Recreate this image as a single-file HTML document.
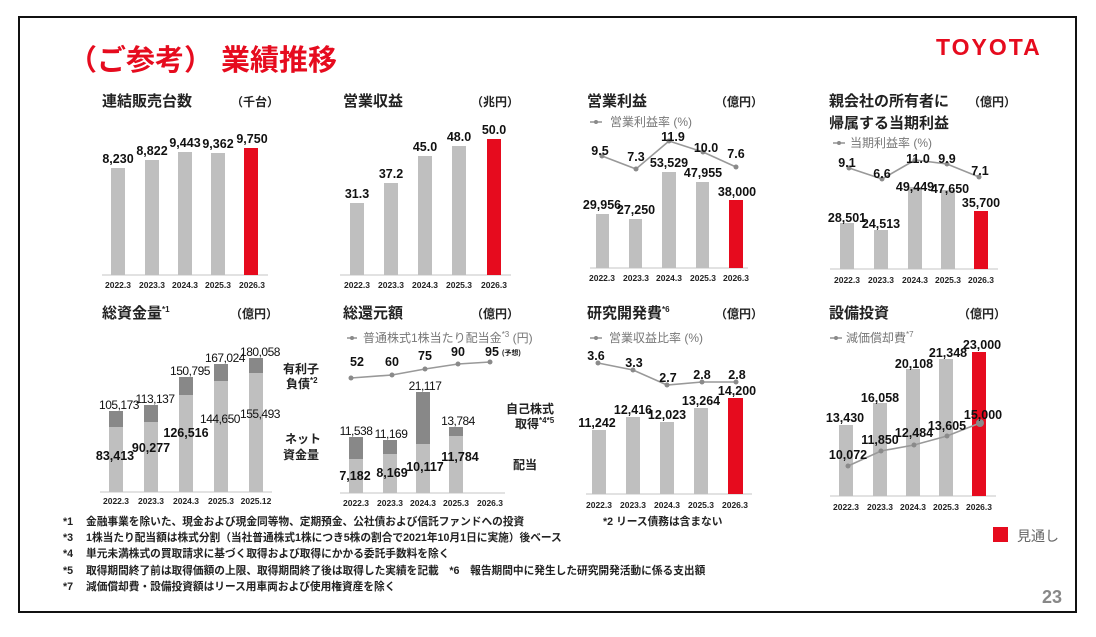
<!DOCTYPE html>
<html><head><meta charset="utf-8"><style>
html,body{margin:0;padding:0;background:#fff;}
svg{display:block;}
text{font-family:"Liberation Sans","Noto Sans CJK JP",sans-serif;}
.t{font-size:15px;font-weight:bold;fill:#222;}
.u{font-size:12px;font-weight:bold;fill:#222;}
.v{font-size:12.5px;font-weight:bold;fill:#111;text-anchor:middle;}
.vl{font-size:12px;fill:#111;text-anchor:middle;letter-spacing:-0.5px;}
.x{font-size:8.5px;font-weight:bold;fill:#222;text-anchor:middle;}
.lg{font-size:12px;fill:#777;}
.fn{font-size:10.7px;font-weight:bold;fill:#222;}
.g{fill:#bfbfbf;} .d{fill:#888;} .r{fill:#e60b1e;}
.ax{stroke:#d9d9d9;stroke-width:1.5;}
.ln{stroke:#999;stroke-width:1.6;fill:none;}
.pt{fill:#8a8a8a;}
</style></head><body>
<svg width="1096" height="637" viewBox="0 0 1096 637">
<rect x="19" y="17" width="1057" height="595" fill="#fff" stroke="#111" stroke-width="2"/>
<text x="68" y="70" font-size="29" font-weight="bold" fill="#e60b1e">（ご参考） 業績推移</text>
<text x="936" y="55" font-size="23" font-weight="bold" fill="#e60b1e" letter-spacing="2">TOYOTA</text>

<!-- Panel 1 -->
<text class="t" x="102" y="106">連結販売台数</text><text class="u" x="231" y="106">（千台）</text>
<line class="ax" x1="102" y1="275" x2="268" y2="275"/>
<rect class="g" x="111" y="168" width="14" height="107"/>
<rect class="g" x="145" y="160" width="14" height="115"/>
<rect class="g" x="178" y="152" width="14" height="123"/>
<rect class="g" x="211" y="153" width="14" height="122"/>
<rect class="r" x="244" y="148" width="14" height="127"/>
<text class="v" x="118" y="163">8,230</text><text class="v" x="152" y="155">8,822</text><text class="v" x="185" y="147">9,443</text><text class="v" x="218" y="148">9,362</text><text class="v" x="252" y="143">9,750</text>
<text class="x" x="118" y="288">2022.3</text><text class="x" x="152" y="288">2023.3</text><text class="x" x="185" y="288">2024.3</text><text class="x" x="218" y="288">2025.3</text><text class="x" x="252" y="288">2026.3</text>

<!-- Panel 2 -->
<text class="t" x="343" y="106">営業収益</text><text class="u" x="471" y="106">（兆円）</text>
<line class="ax" x1="340" y1="275" x2="511" y2="275"/>
<rect class="g" x="350" y="203" width="14" height="72"/>
<rect class="g" x="384" y="183" width="14" height="92"/>
<rect class="g" x="418" y="156" width="14" height="119"/>
<rect class="g" x="452" y="146" width="14" height="129"/>
<rect class="r" x="487" y="139" width="14" height="136"/>
<text class="v" x="357" y="198">31.3</text><text class="v" x="391" y="178">37.2</text><text class="v" x="425" y="151">45.0</text><text class="v" x="459" y="141">48.0</text><text class="v" x="494" y="134">50.0</text>
<text class="x" x="357" y="288">2022.3</text><text class="x" x="391" y="288">2023.3</text><text class="x" x="425" y="288">2024.3</text><text class="x" x="459" y="288">2025.3</text><text class="x" x="494" y="288">2026.3</text>

<!-- Panel 3 -->
<text class="t" x="587" y="106">営業利益</text><text class="u" x="715" y="106">（億円）</text>
<line class="ln" x1="590" y1="122" x2="602" y2="122"/><circle class="pt" cx="596" cy="122" r="2"/>
<text class="lg" x="610" y="126">営業利益率 (%)</text>
<line class="ax" x1="590" y1="268" x2="748" y2="268"/>
<rect class="g" x="596" y="214" width="13" height="54"/>
<rect class="g" x="629" y="219" width="13" height="49"/>
<rect class="g" x="662" y="172" width="14" height="96"/>
<rect class="g" x="696" y="182" width="13" height="86"/>
<rect class="r" x="729" y="200" width="14" height="68"/>
<polyline class="ln" points="602,156 636,169 669,141 703,152 736,167"/>
<circle class="pt" cx="602" cy="156" r="2.5"/><circle class="pt" cx="636" cy="169" r="2.5"/><circle class="pt" cx="669" cy="141" r="2.5"/><circle class="pt" cx="703" cy="152" r="2.5"/><circle class="pt" cx="736" cy="167" r="2.5"/>
<text class="v" x="600" y="155">9.5</text><text class="v" x="636" y="161">7.3</text><text class="v" x="673" y="141">11.9</text><text class="v" x="706" y="152">10.0</text><text class="v" x="736" y="158">7.6</text>
<text class="v" x="602" y="209">29,956</text><text class="v" x="636" y="214">27,250</text><text class="v" x="669" y="167">53,529</text><text class="v" x="703" y="177">47,955</text><text class="v" x="737" y="196">38,000</text>
<text class="x" x="602" y="281">2022.3</text><text class="x" x="636" y="281">2023.3</text><text class="x" x="669" y="281">2024.3</text><text class="x" x="703" y="281">2025.3</text><text class="x" x="736" y="281">2026.3</text>

<!-- Panel 4 -->
<text class="t" x="829" y="106">親会社の所有者に</text><text class="t" x="829" y="128">帰属する当期利益</text><text class="u" x="968" y="106">（億円）</text>
<line class="ln" x1="833" y1="143" x2="845" y2="143"/><circle class="pt" cx="839" cy="143" r="2"/>
<text class="lg" x="850" y="147">当期利益率 (%)</text>
<line class="ax" x1="830" y1="269" x2="998" y2="269"/>
<rect class="g" x="840" y="223" width="14" height="46"/>
<rect class="g" x="874" y="230" width="14" height="39"/>
<rect class="g" x="908" y="187" width="14" height="82"/>
<rect class="g" x="941" y="190" width="14" height="79"/>
<rect class="r" x="974" y="211" width="14" height="58"/>
<polyline class="ln" points="849,168 882,179 915,160 947,164 979,177"/>
<circle class="pt" cx="849" cy="168" r="2.5"/><circle class="pt" cx="882" cy="179" r="2.5"/><circle class="pt" cx="915" cy="160" r="2.5"/><circle class="pt" cx="947" cy="164" r="2.5"/><circle class="pt" cx="979" cy="177" r="2.5"/>
<text class="v" x="847" y="167">9.1</text><text class="v" x="882" y="178">6.6</text><text class="v" x="918" y="163">11.0</text><text class="v" x="947" y="163">9.9</text><text class="v" x="980" y="175">7.1</text>
<text class="v" x="847" y="222">28,501</text><text class="v" x="881" y="228">24,513</text><text class="v" x="915" y="191">49,449</text><text class="v" x="950" y="193">47,650</text><text class="v" x="981" y="207">35,700</text>
<text class="x" x="847" y="283">2022.3</text><text class="x" x="881" y="283">2023.3</text><text class="x" x="915" y="283">2024.3</text><text class="x" x="948" y="283">2025.3</text><text class="x" x="981" y="283">2026.3</text>

<!-- Panel 5 -->
<text class="t" x="102" y="318">総資金量<tspan font-size="8" dy="-6">*1</tspan></text><text class="u" x="230" y="318">（億円）</text>
<line class="ax" x1="100" y1="492" x2="272" y2="492"/>
<rect class="d" x="109" y="411" width="14" height="16"/><rect class="g" x="109" y="427" width="14" height="65"/>
<rect class="d" x="144" y="405" width="14" height="17"/><rect class="g" x="144" y="422" width="14" height="70"/>
<rect class="d" x="179" y="377" width="14" height="18"/><rect class="g" x="179" y="395" width="14" height="97"/>
<rect class="d" x="214" y="364" width="14" height="17"/><rect class="g" x="214" y="381" width="14" height="111"/>
<rect class="d" x="249" y="358" width="14" height="15"/><rect class="g" x="249" y="373" width="14" height="119"/>
<text class="vl" x="119" y="409">105,173</text><text class="vl" x="155" y="403">113,137</text><text class="vl" x="190" y="375">150,795</text><text class="vl" x="225" y="362">167,024</text><text class="vl" x="260" y="356">180,058</text>
<text class="v" x="115" y="460">83,413</text><text class="v" x="151" y="452">90,277</text><text class="v" x="186" y="437">126,516</text><text class="vl" x="220" y="423">144,650</text><text class="vl" x="260" y="418">155,493</text>
<text class="x" x="116" y="504">2022.3</text><text class="x" x="151" y="504">2023.3</text><text class="x" x="186" y="504">2024.3</text><text class="x" x="221" y="504">2025.3</text><text class="x" x="256" y="504">2025.12</text>
<text class="u" x="283" y="373">有利子</text><text class="u" x="286" y="388">負債<tspan font-size="8" dy="-5">*2</tspan></text>
<text class="u" x="285" y="443">ネット</text><text class="u" x="283" y="459">資金量</text>

<!-- Panel 6 -->
<text class="t" x="343" y="318">総還元額</text><text class="u" x="471" y="318">（億円）</text>
<line class="ln" x1="347" y1="338" x2="357" y2="338"/><circle class="pt" cx="352" cy="338" r="2"/>
<text class="lg" x="363" y="342">普通株式1株当たり配当金<tspan font-size="8" dy="-5">*3</tspan><tspan dy="5"> (円)</tspan></text>
<line class="ax" x1="340" y1="493" x2="505" y2="493"/>
<rect class="d" x="349" y="437" width="14" height="22"/><rect class="g" x="349" y="459" width="14" height="34"/>
<rect class="d" x="383" y="440" width="14" height="14"/><rect class="g" x="383" y="454" width="14" height="39"/>
<rect class="d" x="416" y="392" width="14" height="52"/><rect class="g" x="416" y="444" width="14" height="49"/>
<rect class="d" x="449" y="427" width="14" height="9"/><rect class="g" x="449" y="436" width="14" height="57"/>
<polyline class="ln" points="351,378 392,375 425,369 458,364 490,362"/>
<circle class="pt" cx="351" cy="378" r="2.5"/><circle class="pt" cx="392" cy="375" r="2.5"/><circle class="pt" cx="425" cy="369" r="2.5"/><circle class="pt" cx="458" cy="364" r="2.5"/><circle class="pt" cx="490" cy="362" r="2.5"/>
<text class="v" x="357" y="366">52</text><text class="v" x="392" y="366">60</text><text class="v" x="425" y="360">75</text><text class="v" x="458" y="356">90</text><text class="v" x="492" y="356">95</text><text x="502" y="355" font-size="7" font-weight="bold" fill="#222">(予想)</text>
<text class="vl" x="356" y="435">11,538</text><text class="vl" x="391" y="438">11,169</text><text class="vl" x="425" y="390">21,117</text><text class="vl" x="458" y="425">13,784</text>
<text class="v" x="355" y="480">7,182</text><text class="v" x="392" y="477">8,169</text><text class="v" x="425" y="471">10,117</text><text class="v" x="460" y="461">11,784</text>
<text class="x" x="356" y="506">2022.3</text><text class="x" x="390" y="506">2023.3</text><text class="x" x="423" y="506">2024.3</text><text class="x" x="456" y="506">2025.3</text><text class="x" x="490" y="506">2026.3</text>
<text class="u" x="506" y="413">自己株式</text><text class="u" x="515" y="428">取得<tspan font-size="8" dy="-5">*4*5</tspan></text>
<text class="u" x="513" y="469">配当</text>

<!-- Panel 7 -->
<text class="t" x="587" y="318">研究開発費<tspan font-size="8" dy="-6">*6</tspan></text><text class="u" x="715" y="318">（億円）</text>
<line class="ln" x1="590" y1="338" x2="602" y2="338"/><circle class="pt" cx="596" cy="338" r="2"/>
<text class="lg" x="609" y="342">営業収益比率 (%)</text>
<line class="ax" x1="586" y1="494" x2="752" y2="494"/>
<rect class="g" x="592" y="430" width="14" height="64"/>
<rect class="g" x="626" y="417" width="14" height="77"/>
<rect class="g" x="660" y="422" width="14" height="72"/>
<rect class="g" x="694" y="408" width="14" height="86"/>
<rect class="r" x="728" y="398" width="15" height="96"/>
<polyline class="ln" points="598,363 633,370 667,385 702,382 736,382"/>
<circle class="pt" cx="598" cy="363" r="2.5"/><circle class="pt" cx="633" cy="370" r="2.5"/><circle class="pt" cx="667" cy="385" r="2.5"/><circle class="pt" cx="702" cy="382" r="2.5"/><circle class="pt" cx="736" cy="382" r="2.5"/>
<text class="v" x="596" y="360">3.6</text><text class="v" x="634" y="367">3.3</text><text class="v" x="668" y="382">2.7</text><text class="v" x="702" y="379">2.8</text><text class="v" x="737" y="379">2.8</text>
<text class="v" x="597" y="427">11,242</text><text class="v" x="633" y="414">12,416</text><text class="v" x="667" y="419">12,023</text><text class="v" x="701" y="405">13,264</text><text class="v" x="737" y="395">14,200</text>
<text class="x" x="599" y="508">2022.3</text><text class="x" x="633" y="508">2023.3</text><text class="x" x="667" y="508">2024.3</text><text class="x" x="701" y="508">2025.3</text><text class="x" x="735" y="508">2026.3</text>
<text class="fn" x="603" y="525">*2 リース債務は含まない</text>

<!-- Panel 8 -->
<text class="t" x="829" y="318">設備投資</text><text class="u" x="958" y="318">（億円）</text>
<line class="ln" x1="830" y1="338" x2="842" y2="338"/><circle class="pt" cx="836" cy="338" r="2"/>
<text class="lg" x="846" y="342">減価償却費<tspan font-size="8" dy="-5">*7</tspan></text>
<line class="ax" x1="830" y1="496" x2="996" y2="496"/>
<rect class="g" x="839" y="425" width="14" height="71"/>
<rect class="g" x="873" y="403" width="14" height="93"/>
<rect class="g" x="906" y="369" width="14" height="127"/>
<rect class="g" x="939" y="359" width="14" height="137"/>
<rect class="r" x="972" y="352" width="14" height="144"/>
<polyline class="ln" points="848,466 881,451 914,445 947,436 980,423"/>
<circle class="pt" cx="848" cy="466" r="2.5"/><circle class="pt" cx="881" cy="451" r="2.5"/><circle class="pt" cx="914" cy="445" r="2.5"/><circle class="pt" cx="947" cy="436" r="2.5"/><circle class="pt" cx="980" cy="423" r="4" fill="#999"/>
<text class="v" x="845" y="422">13,430</text><text class="v" x="880" y="402">16,058</text><text class="v" x="914" y="368">20,108</text><text class="v" x="948" y="357">21,348</text><text class="v" x="982" y="349">23,000</text>
<text class="v" x="848" y="459">10,072</text><text class="v" x="880" y="444">11,850</text><text class="v" x="914" y="437">12,484</text><text class="v" x="947" y="430">13,605</text><text class="v" x="983" y="419">15,000</text>
<text class="x" x="846" y="510">2022.3</text><text class="x" x="880" y="510">2023.3</text><text class="x" x="913" y="510">2024.3</text><text class="x" x="946" y="510">2025.3</text><text class="x" x="979" y="510">2026.3</text>

<rect class="r" x="993" y="527" width="15" height="15"/>
<text x="1017" y="541" font-size="14" fill="#666">見通し</text>

<!-- footnotes -->
<text class="fn" x="63" y="525">*1</text><text class="fn" x="86" y="525">金融事業を除いた、現金および現金同等物、定期預金、公社債および信託ファンドへの投資</text>
<text class="fn" x="63" y="541">*3</text><text class="fn" x="86" y="541">1株当たり配当額は株式分割（当社普通株式1株につき5株の割合で2021年10月1日に実施）後ベース</text>
<text class="fn" x="63" y="557">*4</text><text class="fn" x="86" y="557">単元未満株式の買取請求に基づく取得および取得にかかる委託手数料を除く</text>
<text class="fn" x="63" y="574">*5</text><text class="fn" x="86" y="574">取得期間終了前は取得価額の上限、取得期間終了後は取得した実績を記載　*6　報告期間中に発生した研究開発活動に係る支出額</text>
<text class="fn" x="63" y="590">*7</text><text class="fn" x="86" y="590">減価償却費・設備投資額はリース用車両および使用権資産を除く</text>

<text x="1062" y="603" font-size="18" font-weight="bold" fill="#888" text-anchor="end">23</text>
</svg>
</body></html>
